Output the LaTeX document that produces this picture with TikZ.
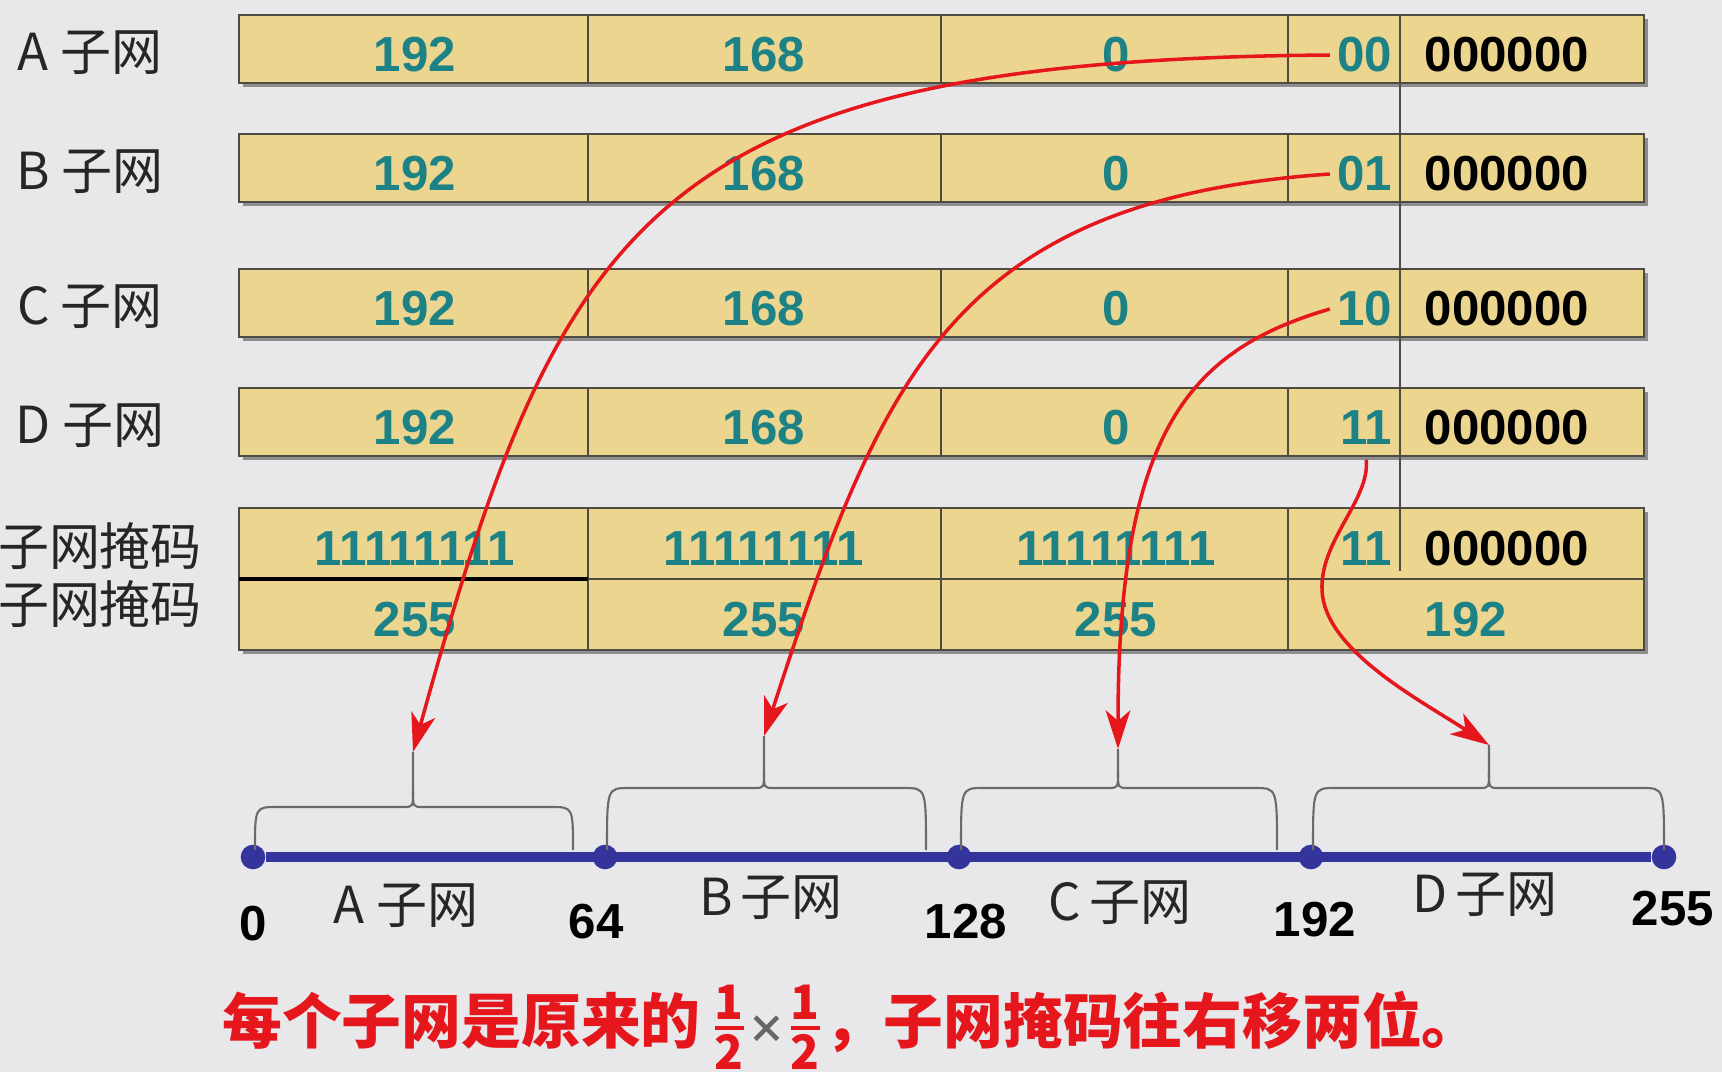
\documentclass[tikz,border=0pt]{standalone}
\usepackage{amsmath}
\usepackage{fontspec}
\setmainfont{Liberation Sans}
\newfontfamily\cjk{Noto Sans CJK SC}
\usetikzlibrary{arrows.meta, positioning}
\definecolor{bg}{HTML}{E8E8EA}
\definecolor{cell}{HTML}{EBD58F}
\definecolor{rim}{HTML}{4E4B42}
\definecolor{cshadow}{HTML}{8E8E8E}
\definecolor{cnum}{HTML}{1C8285}
\definecolor{cred}{HTML}{E5161C}
\definecolor{caxis}{HTML}{34349C}
\definecolor{brc}{HTML}{6A6A6A}
\newcommand\halfof{\ensuremath{\genfrac{}{}{1.2pt}{}{\mbox{\fontsize{13.5}{13.5}\selectfont 1}}{\mbox{\fontsize{13.5}{13.5}\selectfont 2}}}}

\begin{document}
\begin{tikzpicture}[x=0.01cm, y=-0.01cm,
    num/.style={font=\fontsize{14}{14}\selectfont\bfseries, text=cnum, inner sep=2pt},
    zeros/.style={num, text=black, anchor=west},
    bits/.style={num, anchor=east},
    lbl/.style={font=\cjk\fontsize{14.5}{14.5}\selectfont, text=black!85},
    masklbl/.style={lbl, font=\cjk\fontsize{14.5}{14.5}\selectfont},
    tick/.style={font=\fontsize{14}{14}\selectfont\bfseries, text=black},
    note/.style={font=\cjk\bfseries\fontsize{17}{17}\selectfont, text=cred},
    dot/.style={circle, fill=caxis, inner sep=0pt, minimum size=7pt},
    brace/.style={draw=brc, line width=0.6pt},
    link/.style={draw=cred, line width=1pt, -{Stealth[length=11pt, width=7pt, inset=3pt]}}]
  \useasboundingbox[fill=bg] (0,0) rectangle (1722,1072);

  % subnet rows
  \foreach \r/\t/\b in {A/15/00, B/134/01, C/269/10, D/388/11} {
    \fill[cshadow] (243,\t+4) rectangle (1648,\t+72);
    \draw[rim, fill=cell, line width=0.7pt] (239,\t) rectangle (1644,\t+68);
    \foreach \x in {588,941,1288} \draw[rim, line width=0.7pt] (\x,\t) -- (\x,\t+68);
    \node[lbl] (lab\r) at (90,\t+38) {\r\ 子网};
    \node[num] (\r1) at (415,\t+40) {192};
    \node[num] (\r2) at (764,\t+40) {168};
    \node[num] (\r3) at (1116,\t+40) {0};
    \node[bits] (bits\r) at (1400,\t+40) {\b};
    \node[zeros] (host\r) at (1417,\t+40) {000000};
  }

  % mask rows
  \fill[cshadow] (243,512) rectangle (1648,654);
  \draw[rim, fill=cell, line width=0.7pt] (239,508) rectangle (1644,650);
  \foreach \x in {588,941,1288} \draw[rim, line width=0.7pt] (\x,508) -- (\x,650);
  \draw[rim, line width=0.7pt] (588,579) -- (1644,579);
  \draw[black, line width=1.3pt] (239,579) -- (588,579);
  \node[masklbl] (labM) at (100,546) {子网掩码};
  \node[masklbl] (labN) at (100,604) {子网掩码};
  \foreach \c/\x in {1/415, 2/764, 3/1116} {
    \node[num] (m\c) at (\x,549) {11111111};
    \node[num] (n\c) at (\x,620) {255};
  }
  \node[bits] (bitsM) at (1400,549) {11};
  \node[zeros] (hostM) at (1417,549) {000000};
  \node[num] (n4) at (1466,620) {192};
  \draw[rim, line width=0.8pt] (1400,15) -- (1400,571);

  % number line
  \foreach \n/\x in {0/253, 64/605, 128/959, 192/1311, 255/1664}
    \node[dot] (p\n) at (\x,857) {};
  \draw[caxis, line width=2.6pt] (p0) -- (p255);
  \node[tick] (t0) at (253,924) {0};
  \node[tick] (t64) at (596,922) {64};
  \node[tick] (t128) at (966,922) {128};
  \node[tick] (t192) at (1315,920) {192};
  \node[tick] (t255) at (1673,909) {255};
  \node[lbl] (sA) at (406,906) {A 子网};
  \node[lbl] (sB) at (771,898) {B\,子网};
  \node[lbl] (sC) at (1120,903) {C\,子网};
  \node[lbl] (sD) at (1485,895) {D\,子网};

  % braces over the ranges
  \foreach \n/\a/\b/\m/\h/\t in {A/255/573/413/807/752, B/607/926/764/788/736, C/961/1277/1118/788/749, D/1313/1664/1489/788/745} {
    \coordinate (tip\n) at (\m,\t);
    \draw[brace] (\a,850) .. controls (\a,\h) .. (\a+22,\h) -- (\m-10,\h) .. controls (\m,\h) .. (\m,\h-16) -- (tip\n);
    \draw[brace] (\m,\h-16) .. controls (\m,\h) .. (\m+10,\h) -- (\b-22,\h) .. controls (\b,\h) .. (\b,850);
  }

  % red links
  \draw[link] (bitsA.west) .. controls (650,60) and (560,220) .. (tipA);
  \draw[link] (bitsB.west) .. controls (950,200) and (880,380) .. (tipB);
  \draw[link] (bitsC.west) .. controls (1190,350) and (1118,430) .. (tipC);
  \draw[link] ([yshift=-2pt]bitsD.south) .. controls (1370,500) and (1320,540) .. (1322,590) .. controls (1324,650) and (1420,700) .. (tipD);

  \node[note] (note) at (852,1027) {每个子网是原来的\,\halfof{\color{black!60}\fontsize{11}{11}\selectfont ×}\halfof，子网掩码往右移两位。};
\end{tikzpicture}
\end{document}
